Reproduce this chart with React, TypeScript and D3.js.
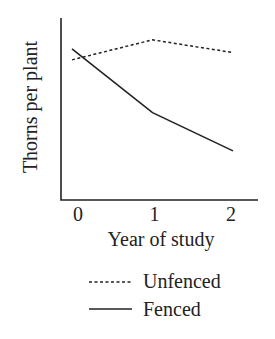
import React from 'react';
import { scaleLinear, line } from 'd3';

const years = [0, 1, 2];
const unfenced = [7.7, 8.8, 8.1];
const fenced = [8.3, 4.8, 2.7];
const tickLabels = ['0', '1', '2'];

const W = 275;
const H = 339;
const font = "'Liberation Serif', 'DejaVu Serif', serif";
const fs = 20;

export default function App() {
  const x = scaleLinear().domain([0, 2]).range([72, 233]);
  const y = scaleLinear().domain([0, 10]).range([200, 18]);
  const tickX = scaleLinear().domain([0, 2]).range([78, 231]);

  const path = line<number>()
    .x((_, i) => x(years[i]))
    .y(d => y(d));

  return (
    <svg width={W} height={H} style={{ position: 'absolute', left: 0, top: 0, background: '#fff' }}>
      {/* axes */}
      <path d={`M61,${y(10)} V${y(0)} H258`} fill="none" stroke="#222" strokeWidth={1.6} />
      {years.map((d, i) => (
        <text key={d} x={tickX(d)} y={221} textAnchor="middle" fontFamily={font} fontSize={fs} fill="#222">
          {tickLabels[i]}
        </text>
      ))}
      <text x={161} y={246} textAnchor="middle" fontFamily={font} fontSize={fs} fill="#222">
        Year of study
      </text>
      <text
        transform="translate(37,107) rotate(-90)"
        textAnchor="middle"
        fontFamily={font}
        fontSize={fs}
        fill="#222"
      >
        Thorns per plant
      </text>

      {/* lines */}
      <path d={path(unfenced) || ''} fill="none" stroke="#222" strokeWidth={1.5} strokeDasharray="3,2.5" />
      <path d={path(fenced) || ''} fill="none" stroke="#222" strokeWidth={1.6} />

      {/* legend */}
      <line x1={89} x2={132} y1={282} y2={282} stroke="#222" strokeWidth={1.3} strokeDasharray="3,2.5" />
      <text x={143} y={288} fontFamily={font} fontSize={fs} fill="#222">Unfenced</text>
      <line x1={89} x2={132} y1={309} y2={309} stroke="#222" strokeWidth={1.6} />
      <text x={143} y={316} fontFamily={font} fontSize={fs} fill="#222">Fenced</text>
    </svg>
  );
}
